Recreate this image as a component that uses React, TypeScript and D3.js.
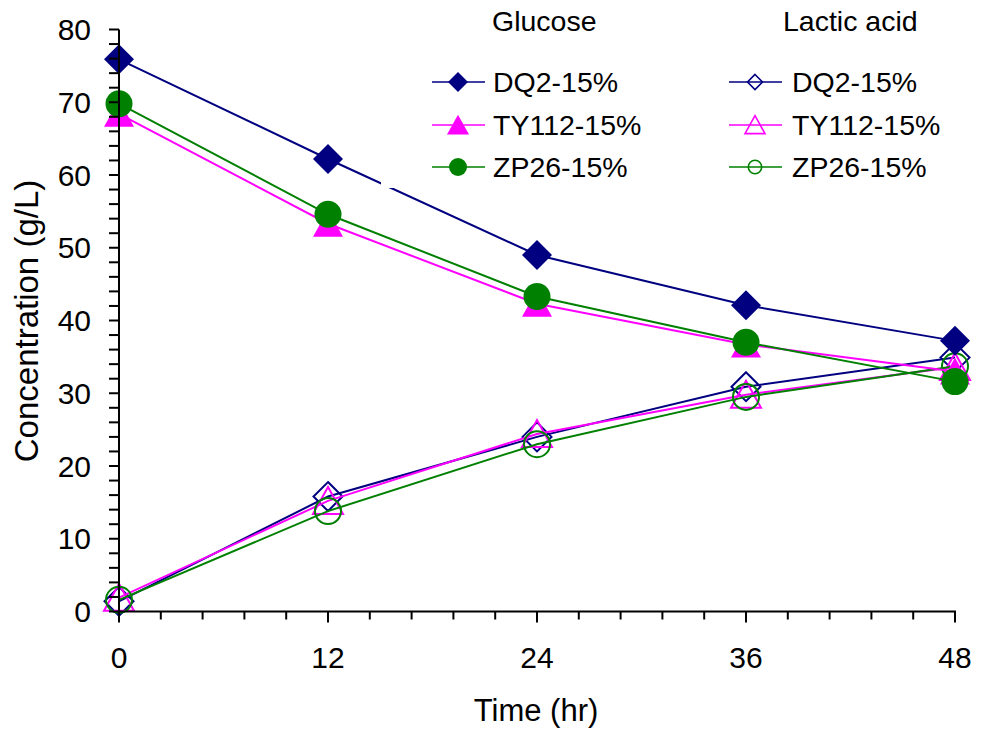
import React from "react";
import * as d3 from "d3";

const hours = [0, 12, 24, 36, 48];
const glucoseDQ2 = [75.9, 62.2, 49.0, 42.1, 37.2];
const glucoseTY112 = [68.4, 53.3, 42.3, 36.7, 33.0];
const glucoseZP26 = [69.8, 54.6, 43.3, 37.0, 31.6];
const lacticDQ2 = [1.4, 15.8, 24.0, 30.9, 34.9];
const lacticTY112 = [1.9, 15.2, 24.4, 29.8, 33.6];
const lacticZP26 = [1.6, 13.8, 23.0, 29.5, 33.7];
const seriesNames = ["DQ2-15%", "TY112-15%", "ZP26-15%"];
const xTicks = [0, 12, 24, 36, 48];
const yTicks = [0, 10, 20, 30, 40, 50, 60, 70, 80];

const NAVY = "#000080";
const MAGENTA = "#FF00FF";
const GREEN = "#008000";
const FONT = "Liberation Sans, Arial, sans-serif";

type Shape = "diamond" | "triangle" | "circle";

function Marker({ shape, x, y, size, filled, color, sw }: { shape: Shape; x: number; y: number; size: number; filled: boolean; color: string; sw: number }) {
  const fill = filled ? color : "none";
  const stroke = filled ? "none" : color;
  if (shape === "circle") {
    return <circle cx={x} cy={y} r={size} fill={fill} stroke={stroke} strokeWidth={sw} />;
  }
  if (shape === "diamond") {
    const p = `M${x},${y - size}L${x + size},${y}L${x},${y + size}L${x - size},${y}Z`;
    return <path d={p} fill={fill} stroke={stroke} strokeWidth={sw} />;
  }
  const h = size * 0.93;
  const p = `M${x},${y - h}L${x + size},${y + h * 0.93}L${x - size},${y + h * 0.93}Z`;
  return <path d={p} fill={fill} stroke={stroke} strokeWidth={sw} strokeLinejoin="miter" />;
}

export default function App() {
  const x = d3.scaleLinear().domain([0, 48]).range([119, 955]);
  const y = d3.scaleLinear().domain([0, 80]).range([611.5, 29.5]);
  const line = d3
    .line<number>()
    .x((_, i) => x(hours[i]))
    .y((d) => y(d));

  const glucose = [
    { vals: glucoseDQ2, color: NAVY, shape: "diamond" as Shape, size: 15 },
    { vals: glucoseTY112, color: MAGENTA, shape: "triangle" as Shape, size: 15 },
    { vals: glucoseZP26, color: GREEN, shape: "circle" as Shape, size: 13.5 },
  ];
  const lactic = [
    { vals: lacticDQ2, color: NAVY, shape: "diamond" as Shape, size: 14.5 },
    { vals: lacticTY112, color: MAGENTA, shape: "triangle" as Shape, size: 15 },
    { vals: lacticZP26, color: GREEN, shape: "circle" as Shape, size: 13 },
  ];

  const xMinor = d3.range(0, 48.001, 2.4);
  const yMinor = d3.range(0, 80.001, 2);

  const legendRows = [82, 125, 167];

  return (
    <svg width={996} height={729} style={{ position: "absolute", left: 0, top: 0, background: "#fff" }}>
      <rect x={0} y={0} width={996} height={729} fill="#fff" />
      {/* lactic series */}
      {lactic.map((s, si) => (
        <g key={"l" + si}>
          <path d={line(s.vals) || ""} fill="none" stroke={s.color} strokeWidth={2} />
          {s.vals.map((v, i) => (
            <Marker key={i} shape={s.shape} x={x(hours[i])} y={y(v)} size={s.size} filled={false} color={s.color} sw={2} />
          ))}
        </g>
      ))}
      {/* glucose series */}
      {glucose.map((s, si) => (
        <g key={"g" + si}>
          <path d={line(s.vals) || ""} fill="none" stroke={s.color} strokeWidth={2} />
          {s.vals.map((v, i) => (
            <Marker key={i} shape={s.shape} x={x(hours[i])} y={y(v)} size={s.size} filled={true} color={s.color} sw={0} />
          ))}
        </g>
      ))}

      {/* legend background */}
      <rect x={381} y={0} width={615} height={188} fill="#fff" />
      <text x={492} y={31} fontFamily={FONT} fontSize={28.5} fill="#000">Glucose</text>
      <text x={783} y={31} fontFamily={FONT} fontSize={28.5} fill="#000">Lactic acid</text>
      {seriesNames.map((name, i) => {
        const ly = legendRows[i];
        const g = glucose[i];
        const l = lactic[i];
        const fSize = g.shape === "diamond" ? 10 : g.shape === "triangle" ? 11 : 9;
        const oSize = l.shape === "diamond" ? 7.5 : l.shape === "triangle" ? 10 : 6.7;
        return (
          <g key={name}>
            <line x1={432} x2={485} y1={ly} y2={ly} stroke={g.color} strokeWidth={1.6} />
            <Marker shape={g.shape} x={458} y={ly} size={fSize} filled={true} color={g.color} sw={0} />
            <text x={493} y={ly + 10} fontFamily={FONT} fontSize={28.5} fill="#000">{name}</text>
            <line x1={729} x2={782} y1={ly} y2={ly} stroke={l.color} strokeWidth={1.6} />
            <Marker shape={l.shape} x={755} y={ly} size={oSize} filled={false} color={l.color} sw={1.6} />
            <text x={792} y={ly + 10} fontFamily={FONT} fontSize={28.5} fill="#000">{name}</text>
          </g>
        );
      })}

      {/* axes */}
      <line x1={119} x2={119} y1={y(80)} y2={y(0) + 1} stroke="#000" strokeWidth={2} />
      <line x1={118} x2={956} y1={y(0)} y2={y(0)} stroke="#000" strokeWidth={2} />
      {yMinor.map((t) => (
        <line key={"ym" + t} x1={109} x2={119} y1={y(t)} y2={y(t)} stroke="#000" strokeWidth={2} />
      ))}
      {xMinor.map((t) => (
        <line key={"xm" + t} x1={x(t)} x2={x(t)} y1={y(0)} y2={y(0) + (t % 12 === 0 ? 11 : 8)} stroke="#000" strokeWidth={2} />
      ))}
      {yTicks.map((t) => (
        <text key={"yt" + t} x={91} y={y(t) + 10.5} textAnchor="end" fontFamily={FONT} fontSize={30} fill="#000">{t}</text>
      ))}
      {xTicks.map((t) => (
        <text key={"xt" + t} x={x(t)} y={668} textAnchor="middle" fontFamily={FONT} fontSize={30} fill="#000">{t}</text>
      ))}
      <text x={536} y={721} textAnchor="middle" fontFamily={FONT} fontSize={31} fill="#000">Time (hr)</text>
      <text transform={`translate(38,321) rotate(-90)`} textAnchor="middle" fontFamily={FONT} fontSize={33} fill="#000">Concentration (g/L)</text>
    </svg>
  );
}
